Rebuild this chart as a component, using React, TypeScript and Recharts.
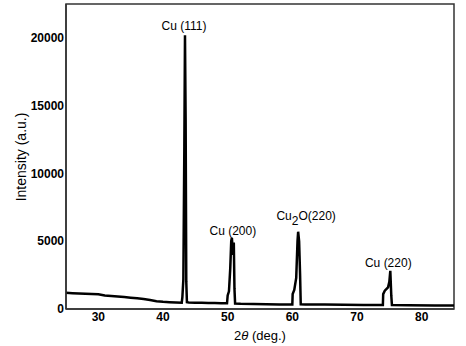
import React from 'react';
import { LineChart, Line, XAxis, YAxis, ReferenceArea, ReferenceDot } from 'recharts';

// 2-theta (deg.) and intensity (a.u.)
const twoTheta = [
  25, 26, 27, 28, 29, 30, 31, 32, 33, 34, 35, 36, 37, 38, 39, 40, 41, 42, 42.9,
  43.0, 43.15, 43.3, 43.4, 43.5, 43.6, 43.7,
  44, 45, 46, 47, 48, 49, 49.9,
  50.0, 50.2, 50.4, 50.55, 50.65, 50.75, 50.85, 50.95, 51.05, 51.15,
  52, 54, 56, 58, 60.0,
  60.05, 60.3, 60.6, 60.8, 60.9, 61.05, 61.2, 61.3,
  62, 65, 68, 71, 74.0,
  74.05, 74.3, 74.8, 75.0, 75.15, 75.3, 75.4,
  78, 82, 85,
];
const intensity = [
  1200, 1170, 1150, 1120, 1100, 1080, 1000, 960, 920, 880, 830, 790, 740, 660, 580, 530, 500, 480, 470,
  900, 2200, 12000, 20200, 14000, 2000, 500,
  480, 470, 460, 450, 440, 420, 420,
  1000, 1300, 3000, 5000, 5250, 4600, 4000, 4900, 1500, 400,
  380, 360, 350, 340, 330,
  1100, 1400, 2300, 5000, 5700, 5000, 2500, 350,
  340, 330, 310, 300, 300,
  1100, 1350, 1600, 2000, 2820, 1000, 300,
  280, 260, 250,
];

const xTicks = [30, 40, 50, 60, 70, 80];
const yTicks = [0, 5000, 10000, 15000, 20000];

const peakX = [43.4, 50.65, 60.9, 75.15];
const peakY = [20200, 5250, 5700, 2820];
const peakNames = ['Cu (111)', 'Cu (200)', 'Cu2O(220)', 'Cu (220)'];

const data = twoTheta.map((x, i) => ({ x, y: intensity[i] }));

const font = '"Liberation Sans", Arial, sans-serif';
// label nudges in px (dx, dy from the peak tip)
const nudges = [
  [-1, -5],
  [1, -3],
  [8, -12],
  [-2, -4],
];

function peakLabel(name: string, i: number) {
  return (p: any) => {
    const vb = p.viewBox || {};
    const cx = vb.x + (vb.width || 0) / 2 + nudges[i][0];
    const cy = vb.y + (vb.height || 0) / 2 + nudges[i][1];
    if (name === 'Cu2O(220)') {
      return (
        <text x={cx} y={cy} textAnchor="middle" fontFamily={font} fontSize={12} fill="#000">
          Cu<tspan dy={5}>2</tspan><tspan dy={-5}>O(220)</tspan>
        </text>
      );
    }
    return (
      <text x={cx} y={cy} textAnchor="middle" fontFamily={font} fontSize={12} fill="#000">
        {name}
      </text>
    );
  };
}

const xLabel = (p: any) => {
  const vb = p.viewBox;
  return (
    <text x={vb.x + vb.width / 2} y={340} textAnchor="middle" fontFamily={font} fontSize={13} fill="#000">
      2<tspan fontStyle="italic">θ</tspan> (deg.)
    </text>
  );
};

const yLabel = () => (
  <text
    x={21}
    y={157}
    transform="rotate(-90, 21, 157)"
    textAnchor="middle"
    dominantBaseline="central"
    fontFamily={font}
    fontSize={14}
    fill="#000"
  >
    Intensity (a.u.)
  </text>
);

export default function App() {
  return (
    <div style={{ position: 'absolute', left: 0, top: 0, background: '#fff' }}>
      <LineChart width={466} height={346} data={data} margin={{ top: 4, right: 12, left: 0, bottom: 0 }}>
        <XAxis
          dataKey="x"
          type="number"
          domain={[25, 85]}
          ticks={xTicks}
          tickLine={false}
          tickSize={0}
          tickMargin={3}
          height={37}
          stroke="#333"
          strokeWidth={1.5}
          tick={{ fill: '#000', fontSize: 12, fontWeight: 'bold', fontFamily: font }}
          label={xLabel}
        />
        <YAxis
          type="number"
          domain={[0, 22500]}
          ticks={yTicks}
          tickLine={false}
          tickSize={0}
          tickMargin={2}
          width={66}
          stroke="#333"
          strokeWidth={1.5}
          tick={{ fill: '#000', fontSize: 12, fontWeight: 'bold', fontFamily: font }}
          label={yLabel}
        />
        <ReferenceArea x1={25} x2={85} y1={0} y2={22500} fill="none" stroke="#333" strokeWidth={1.5} />
        <Line
          type="linear"
          dataKey="y"
          stroke="#000"
          strokeWidth={2.5}
          dot={false}
          isAnimationActive={false}
        />
        {peakX.map((px, i) => (
          <ReferenceDot
            key={peakNames[i]}
            x={px}
            y={peakY[i]}
            r={0}
            fill="none"
            stroke="none"
            label={peakLabel(peakNames[i], i)}
          />
        ))}
      </LineChart>
    </div>
  );
}
